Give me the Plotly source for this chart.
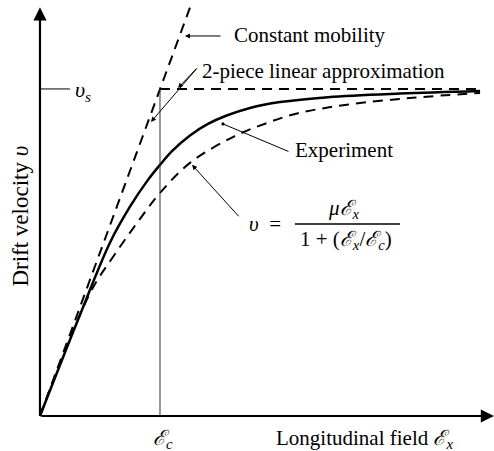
import plotly.graph_objects as go

# field in units of E_c, velocity in units of v_s
exp_e = [0, 0.333, 0.583, 0.75, 0.9, 1.0, 1.1, 1.25, 1.4, 1.55, 1.75, 2.0, 2.4, 3.0, 3.667]
exp_v = [0, 0.309, 0.530, 0.640, 0.722, 0.768, 0.810, 0.858, 0.893, 0.918, 0.942, 0.960, 0.975, 0.986, 0.994]

model_e = [0, 0.417, 0.608, 0.808, 1.0, 1.25, 1.608, 1.892, 2.142, 2.558, 3.108, 3.667]
model_v = [0, 0.376, 0.486, 0.590, 0.682, 0.774, 0.853, 0.896, 0.925, 0.952, 0.973, 0.988]

const_e = [0, 1.258]
const_v = [0, 1.257]

ec = 1.0
vs = 1.0
sat_e = [ec, 3.667]
sat_v = [vs, vs]

FONT = "Liberation Serif, DejaVu Serif, serif"

fig = go.Figure()
fig.add_trace(go.Scatter(x=const_e, y=const_v, mode='lines',
                         line=dict(color='black', width=2, dash='10px,7px')))
fig.add_trace(go.Scatter(x=model_e, y=model_v, mode='lines', line_shape='spline',
                         line=dict(color='black', width=2, dash='10px,7px')))
fig.add_trace(go.Scatter(x=exp_e, y=exp_v, mode='lines', line_shape='spline',
                         line=dict(color='black', width=2.5)))
fig.add_trace(go.Scatter(x=sat_e, y=sat_v, mode='lines',
                         line=dict(color='black', width=2, dash='10px,7px')))
fig.add_trace(go.Scatter(x=[ec, ec], y=[0, vs], mode='lines',
                         line=dict(color='#333333', width=1)))
fig.add_trace(go.Scatter(x=[0, 0.25], y=[vs, vs], mode='lines',
                         line=dict(color='black', width=1)))

def arrow(x, y, ax, ay, head=2, size=1, width=1):
    fig.add_annotation(x=x, y=y, ax=ax, ay=ay, xref='x', yref='y', axref='x', ayref='y',
                       text='', showarrow=True, arrowhead=head, arrowsize=size,
                       arrowwidth=width, arrowcolor='black')

def label(x, y, text, anchor='left', size=21, angle=0):
    fig.add_annotation(x=x, y=y, xref='x', yref='y', text=text, showarrow=False,
                       xanchor=anchor, yanchor='middle', textangle=angle,
                       font=dict(family=FONT, size=size, color='black'))

# axes
arrow(0, 1.25, 0, 0, head=2, size=1.2, width=2.2)
arrow(3.783, 0, 0, 0, head=2, size=1.2, width=2.2)

# annotation arrows
arrow(1.208, 1.162, 1.517, 1.162)
arrow(1.15, 1.003, 1.317, 1.067)
arrow(0.925, 0.899, 1.317, 1.067)
arrow(1.525, 0.893, 2.083, 0.807, head=6, size=0.8)
arrow(1.267, 0.768, 1.667, 0.606)

label(1.6, 1.165, 'Constant mobility')
label(1.333, 1.055, '2-piece linear approximation')
label(2.108, 0.813, 'Experiment')
label(0.275, 0.995, '<i>υ</i><sub><i>s</i></sub>', size=22)
label(1.025, -0.07, '<i>ℰ</i><sub><i>c</i></sub>', anchor='center')
label(2.7, -0.07, 'Longitudinal field <i>ℰ</i><sub><i>x</i></sub>', anchor='center')
label(-0.16, 0.612, 'Drift velocity <i>υ</i>', anchor='center', size=23, angle=-90)

# formula
label(1.875, 0.587, '<i>υ</i>  =', anchor='center')
label(2.53, 0.632, '<i>μℰ</i><sub><i>x</i></sub>', anchor='center')
fig.add_trace(go.Scatter(x=[2.125, 3.0], y=[0.587, 0.587], mode='lines',
                         line=dict(color='black', width=1.5)))
label(2.55, 0.538, '1 + (<i>ℰ</i><sub><i>x</i></sub>/<i>ℰ</i><sub><i>c</i></sub>)', anchor='center')

fig.update_xaxes(range=[-0.333, 3.783], visible=False)
fig.update_yaxes(range=[-0.107, 1.272], visible=False)
fig.update_layout(width=494, height=451, margin=dict(l=0, r=0, t=0, b=0),
                  showlegend=False, plot_bgcolor='white', paper_bgcolor='white')

fig.write_html("out.html", config={'displayModeBar': False},
               post_script="document.body.style.margin='0';")
